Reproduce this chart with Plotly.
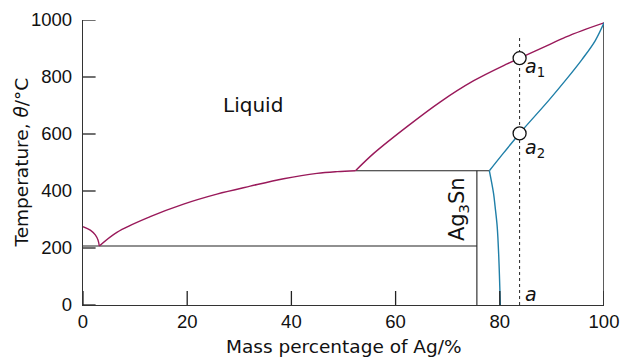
import plotly.graph_objects as go

# ---- data ----
# Sn-side liquidus (purple), from pure Sn down to the eutectic
liq_sn_x = [0, 1.4, 2.36, 2.88, 3.13]
liq_sn_y = [275, 263, 246, 228, 207]
# liquidus from eutectic to peritectic (purple)
liq_mid_x = [3.13, 6.5, 12.9, 19.3, 25.7, 32.1, 38.5, 44.9, 48.8, 52.3]
liq_mid_y = [207, 255, 310, 354, 389, 417, 443, 462, 468, 471]
# liquidus from peritectic to pure Ag (purple)
liq_ag_x = [52.3, 55.8, 62.2, 68.6, 75.0, 81.4, 83.8, 89.4, 92.6, 95.8, 100]
liq_ag_y = [471, 532, 626, 713, 787, 846, 866, 913, 940, 963, 990]
# solidus of Ag-rich solid (blue)
sol_x = [78.0, 80.0, 83.8, 89.4, 92.6, 95.8, 98.3, 100]
sol_y = [471, 517, 602, 718, 788, 862, 927, 990]
# solvus of Ag-rich solid (blue)
solv_x = [78.0, 78.8, 79.1, 79.5, 79.8, 80.1]
solv_y = [471, 392, 345, 275, 170, 0]
# invariant lines and compound
eutectic_x, eutectic_y = [0, 75.6], [207, 207]
peritectic_x, peritectic_y = [52.3, 78.0], [471, 471]
ag3sn_x, ag3sn_y = [75.6, 75.6], [0, 471]
ag_x, ag_y = [100, 100], [0, 990]
# isopleth a and its points a1, a2
iso_x, iso_y = [83.8, 83.8], [0, 941]
pts_x = [83.8, 83.8]
pts_y = [866, 602]

x_ticks = [0, 20, 40, 60, 80, 100]
y_ticks = [0, 200, 400, 600, 800, 1000]

PURPLE = "#99195a"
BLUE = "#1f7fa8"
DARK = "#222222"

fig = go.Figure()

def line(x, y, color, width=1.4, dash=None, shape="spline"):
    fig.add_trace(go.Scatter(x=x, y=y, mode="lines",
                             line=dict(color=color, width=width, dash=dash, shape=shape),
                             showlegend=False, hoverinfo="skip"))

line(eutectic_x, eutectic_y, DARK, 1.1, shape="linear")
line(peritectic_x, peritectic_y, DARK, 1.1, shape="linear")
line(ag3sn_x, ag3sn_y, DARK, 1.1, shape="linear")
line(ag_x, ag_y, "#333333", 1.6, shape="linear")
line(iso_x, iso_y, DARK, 1, dash="dot", shape="linear")
line(liq_sn_x, liq_sn_y, PURPLE)
line(liq_mid_x, liq_mid_y, PURPLE)
line(liq_ag_x, liq_ag_y, PURPLE)
line(sol_x, sol_y, BLUE)
line(solv_x, solv_y, BLUE)

# inward tick marks (clipped to the plot area so only the inner half shows)
fig.add_trace(go.Scatter(x=x_ticks, y=[0] * len(x_ticks), mode="markers",
                         marker=dict(symbol="line-ns", size=20,
                                     line=dict(color=DARK, width=1.3)),
                         cliponaxis=True, showlegend=False, hoverinfo="skip"))
fig.add_trace(go.Scatter(x=[0] * len(y_ticks), y=y_ticks, mode="markers",
                         marker=dict(symbol="line-ew", size=18,
                                     line=dict(color=DARK, width=1.3)),
                         cliponaxis=True, showlegend=False, hoverinfo="skip"))

fig.add_trace(go.Scatter(x=pts_x, y=pts_y, mode="markers",
                         marker=dict(size=13, color="white",
                                     line=dict(color="#111111", width=1.3)),
                         showlegend=False, hoverinfo="skip"))

TXT = "DejaVu Sans"
NUM = "Liberation Sans"

ann = [
    dict(x=32.7, y=702, text="Liquid", font=dict(family=TXT, size=20, color="#111")),
    dict(x=72.0, y=337, text="Ag<sub>3</sub>Sn", textangle=-90,
         font=dict(family=TXT, size=21, color="#111")),
    dict(x=84.5, y=835, text="<i>a</i><sub>1</sub>", xanchor="left",
         font=dict(family=TXT, size=19, color="#111")),
    dict(x=84.5, y=550, text="<i>a</i><sub>2</sub>", xanchor="left",
         font=dict(family=TXT, size=19, color="#111")),
    dict(x=84.5, y=39, text="<i>a</i>", xanchor="left",
         font=dict(family=TXT, size=19, color="#111")),
]
for a in ann:
    a.setdefault("xanchor", "center")
    a.update(xref="x", yref="y", yanchor="middle", showarrow=False)
    fig.add_annotation(**a)

fig.add_annotation(xref="paper", yref="paper", x=0, y=0.5, xshift=-62,
                   text="Temperature, <i>θ</i>/°C", textangle=-90, showarrow=False,
                   xanchor="center", yanchor="middle",
                   font=dict(family=TXT, size=18.5, color="#111"))
fig.add_annotation(xref="paper", yref="paper", x=0.5, y=0, yshift=-41,
                   text="Mass percentage of Ag/%", showarrow=False,
                   xanchor="center", yanchor="middle",
                   font=dict(family=TXT, size=18.5, color="#111"))

axis_common = dict(showgrid=False, zeroline=False, showline=True, linecolor="#333333",
                   linewidth=1.4, ticks="", mirror=False, automargin=False,
                   tickfont=dict(family=NUM, size=18.5, color="#111"))
fig.update_xaxes(range=[0, 100], tickmode="array", tickvals=x_ticks, **axis_common)
fig.update_yaxes(range=[0, 1000], tickmode="array", tickvals=y_ticks,
                 ticklabelstandoff=6, **axis_common)

fig.update_layout(template="none", width=621, height=359,
                  margin=dict(l=83, r=17, t=20, b=54, autoexpand=False),
                  plot_bgcolor="white", paper_bgcolor="white", hovermode=False)

fig.write_html("out.html", config={"displayModeBar": False},
               post_script="document.body.style.margin='0';document.body.style.overflow='hidden';")
